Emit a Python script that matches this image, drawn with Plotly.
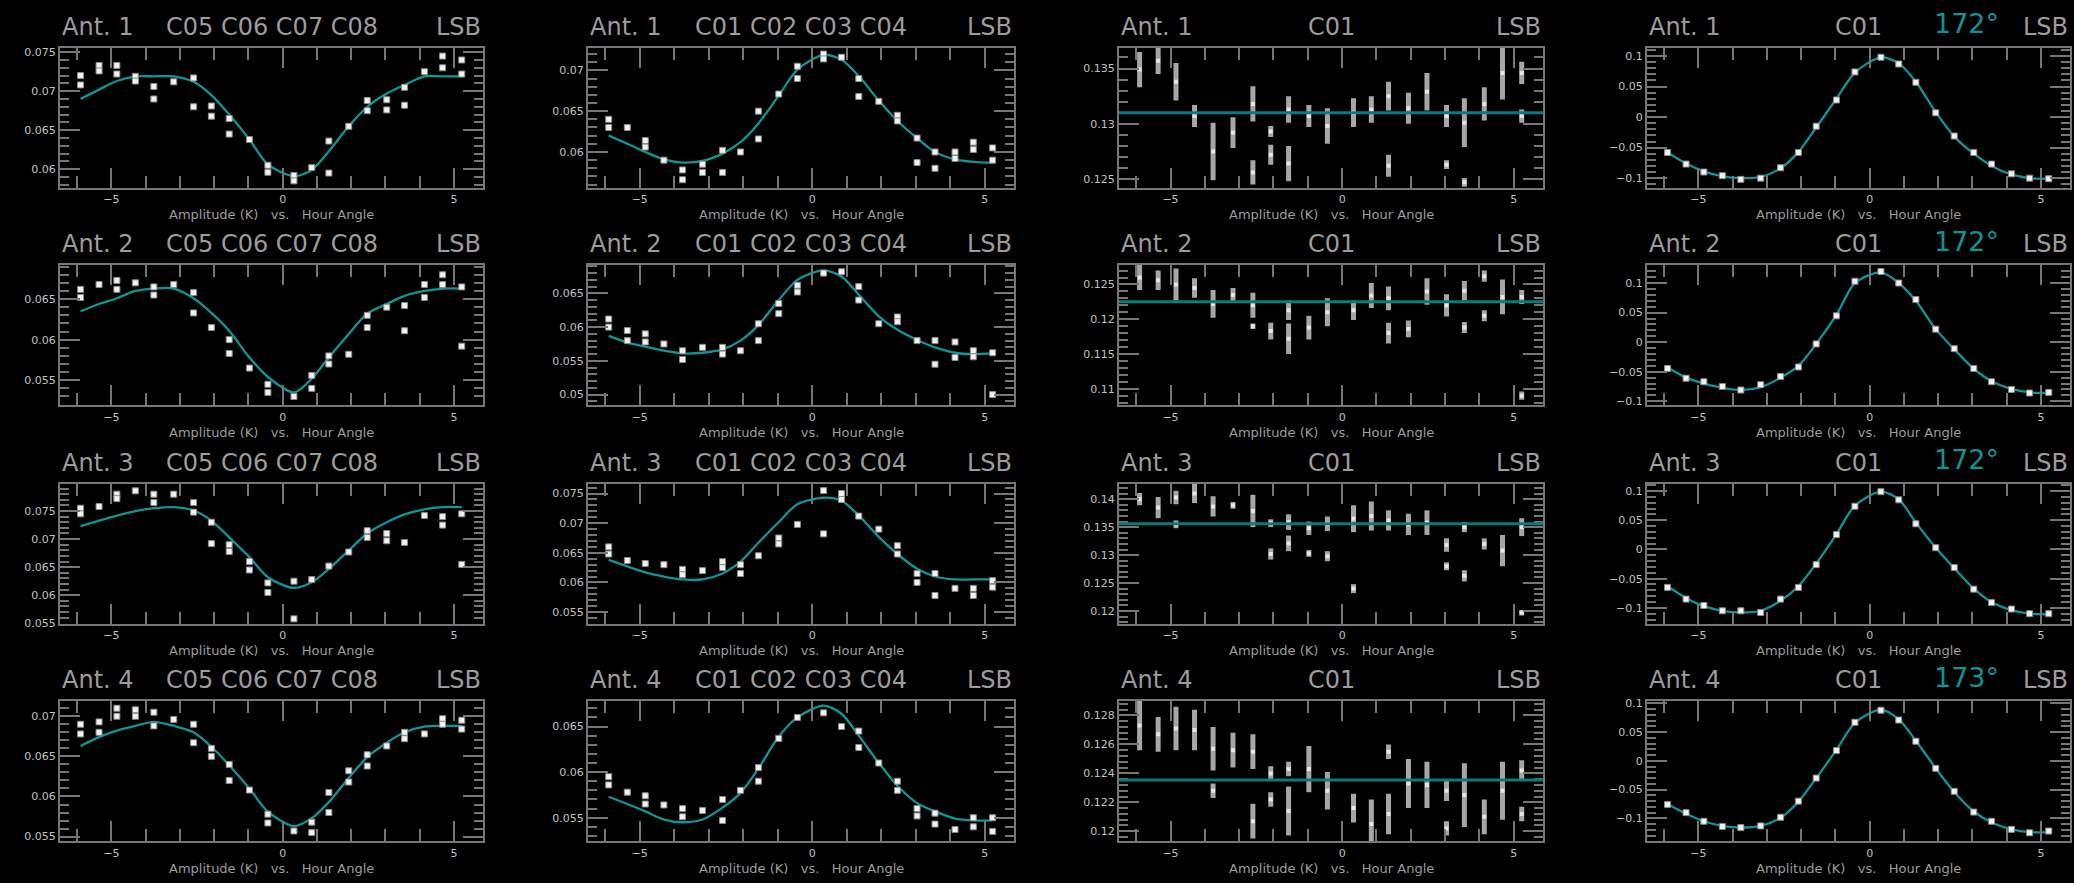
import plotly.graph_objects as go

W, H = 2074, 883

# hour angles of the observation scans (shared by every panel)
HA = [-5.9, -5.36, -4.84, -4.3, -3.76, -3.18, -2.6, -2.08, -1.56, -0.97, -0.43,
      0.33, 0.85, 1.35, 1.93, 2.47, 3.04, 3.56, 4.14, 4.67, 5.23]

# ---------- Antenna 1 ----------
A1_C58_Y1 = [0.0720, 0.0733, 0.0733, 0.0719, 0.0706, 0.0712, 0.0717, 0.0681, 0.0665, 0.0638, 0.0605,
             0.0592, 0.0602, 0.0636, 0.0655, 0.0688, 0.0689, 0.0705, 0.0725, 0.0745, 0.0740]
A1_C58_Y2 = [0.0708, 0.0726, 0.0722, 0.0713, 0.0690, None, 0.0680, 0.0668, 0.0645, None, 0.0596,
             0.0585, None, 0.0595, None, 0.0675, 0.0676, 0.0682, None, 0.0730, 0.0722]
A1_C58_FIT = [0.0690, 0.0702, 0.0713, 0.0719, 0.0719, 0.0719, 0.0712, 0.0695, 0.0670, 0.0638, 0.0606,
              0.0591, 0.0599, 0.0623, 0.0655, 0.0680, 0.0697, 0.0708, 0.0719, 0.0719, 0.0719]

A1_C14_Y1 = [0.0640, 0.0630, 0.0614, 0.0590, 0.0578, 0.0585, 0.0602, 0.0600, 0.0650, 0.0671, 0.0705,
             0.0720, 0.0716, 0.0690, 0.0662, 0.0645, 0.0617, 0.0600, 0.0600, 0.0612, 0.0605]
A1_C14_Y2 = [0.0630, None, 0.0606, None, 0.0566, 0.0575, 0.0575, None, 0.0616, None, 0.0690,
             0.0714, None, 0.0668, None, 0.0638, 0.0587, 0.0580, 0.0592, 0.0603, 0.0590]
A1_C14_FIT = [0.0620, 0.0610, 0.0600, 0.0591, 0.0587, 0.0589, 0.0598, 0.0612, 0.0635, 0.0669, 0.0701,
              0.0719, 0.0713, 0.0693, 0.0663, 0.0638, 0.0617, 0.0600, 0.0591, 0.0588, 0.0587]

A1_C01_Y1 = [0.1349, 0.1357, 0.1338, 0.1307, 0.1275, 0.1292, 0.1318, 0.1293, 0.1313, 0.1307, 0.1298,
             0.1310, 0.1313, 0.1325, 0.1314, 0.1329, 0.1307, 0.1301, 0.1318, 0.1346, 0.1346]
A1_C01_E1 = [0.0016, 0.0012, 0.0017, 0.0010, 0.0026, 0.0014, 0.0016, 0.0005, 0.0012, 0.0010, 0.0016,
             0.0013, 0.0012, 0.0013, 0.0014, 0.0017, 0.0010, 0.0022, 0.0015, 0.0024, 0.0010]
A1_C01_Y2 = [None, None, None, None, None, None, 0.1256, 0.1272, 0.1264, None, None,
             None, None, 0.1262, None, None, 0.1263, 0.1247, None, None, 0.1307]
A1_C01_E2 = [0, 0, 0, 0, 0, 0, 0.0011, 0.0009, 0.0016, 0, 0,
             0, 0, 0.0010, 0, 0, 0.0004, 0.0004, 0, 0, 0.0006]
A1_C01_FIT = 0.1310

A1_PH_Y = [-0.058, -0.077, -0.090, -0.096, -0.102, -0.100, -0.083, -0.058, -0.015, 0.028, 0.074,
           0.098, 0.087, 0.057, 0.007, -0.031, -0.058, -0.077, -0.093, -0.100, -0.101]
A1_PH_FIT = [-0.058, -0.076, -0.089, -0.097, -0.100, -0.098, -0.084, -0.057, -0.017, 0.030, 0.073,
             0.098, 0.088, 0.058, 0.008, -0.032, -0.060, -0.080, -0.094, -0.100, -0.101]

# ---------- Antenna 2 ----------
A2_C58_Y1 = [0.0662, 0.0668, 0.0673, 0.0670, 0.0665, 0.0668, 0.0658, 0.0615, 0.0600, 0.0565, 0.0545,
             0.0530, 0.0556, 0.0580, 0.0582, 0.0630, 0.0640, 0.0642, 0.0668, 0.0680, 0.0665]
A2_C58_Y2 = [0.0652, None, 0.0662, None, 0.0655, None, 0.0633, None, 0.0583, None, 0.0535,
             None, 0.0540, 0.0570, None, 0.0615, None, 0.0611, 0.0652, 0.0668, 0.0592]
A2_C58_FIT = [0.0635, 0.0644, 0.0651, 0.0660, 0.0663, 0.0663, 0.0651, 0.0633, 0.0611, 0.0578, 0.0554,
              0.0535, 0.0552, 0.0578, 0.0607, 0.0632, 0.0644, 0.0654, 0.0660, 0.0663, 0.0663]

A2_C14_Y1 = [0.0612, 0.0595, 0.0590, 0.0575, 0.0565, 0.0570, 0.0570, 0.0565, 0.0605, 0.0635, 0.0662,
             0.0680, 0.0682, 0.0660, 0.0605, 0.0615, 0.0580, 0.0580, 0.0578, 0.0565, 0.0562]
A2_C14_Y2 = [0.0600, 0.0580, 0.0578, None, 0.0552, None, 0.0560, None, 0.0580, 0.0620, 0.0652,
             None, None, 0.0640, None, 0.0608, None, 0.0545, 0.0555, 0.0556, 0.0500]
A2_C14_FIT = [0.0587, 0.0577, 0.0571, 0.0565, 0.0561, 0.0562, 0.0567, 0.0580, 0.0603, 0.0640, 0.0670,
              0.0684, 0.0675, 0.0648, 0.0616, 0.0596, 0.0581, 0.0570, 0.0562, 0.0560, 0.0561]

A2_C01_Y1 = [0.1260, 0.1256, 0.1250, 0.1245, 0.1222, 0.1235, 0.1220, 0.1183, 0.1213, 0.1188, 0.1210,
             0.1213, 0.1234, 0.1230, 0.1186, 0.1240, 0.1220, 0.1241, 0.1262, 0.1232, 0.1232]
A2_C01_E1 = [0.0018, 0.0014, 0.0023, 0.0014, 0.0020, 0.0010, 0.0018, 0.0012, 0.0014, 0.0017, 0.0020,
             0.0014, 0.0018, 0.0017, 0.0012, 0.0019, 0.0016, 0.0014, 0.0008, 0.0025, 0.0010]
A2_C01_Y2 = [None, None, None, None, None, None, 0.1190, None, 0.1172, None, None,
             None, None, 0.1180, None, None, None, 0.1188, 0.1205, None, 0.1090]
A2_C01_E2 = [0, 0, 0, 0, 0, 0, 0.0004, 0, 0.0022, 0, 0,
             0, 0, 0.0015, 0, 0, 0, 0.0008, 0.0008, 0, 0.0006]
A2_C01_FIT = 0.1225

A2_PH_Y = [-0.0445, -0.061, -0.067, -0.075, -0.081, -0.072, -0.058, -0.042, -0.003, 0.0445, 0.103,
           0.1195, 0.100, 0.072, 0.022, -0.011, -0.0445, -0.067, -0.080, -0.086, -0.085]
A2_PH_FIT = [-0.043, -0.060, -0.070, -0.077, -0.081, -0.076, -0.060, -0.040, -0.003, 0.046, 0.100,
             0.118, 0.100, 0.070, 0.022, -0.012, -0.045, -0.066, -0.079, -0.085, -0.086]

# ---------- Antenna 3 ----------
A3_C58_Y1 = [0.0755, 0.0758, 0.0780, 0.0786, 0.0780, 0.0780, 0.0765, 0.0730, 0.0690, 0.0660, 0.0622,
             0.0625, 0.0628, 0.0652, 0.0677, 0.0715, 0.0710, 0.0694, 0.0742, 0.0740, 0.0745]
A3_C58_Y2 = [0.0745, None, 0.0772, None, 0.0765, None, 0.0748, 0.0692, 0.0678, 0.0645, 0.0605,
             0.0558, None, None, None, 0.0703, 0.0697, None, None, 0.0725, 0.0655]
A3_C58_FIT = [0.0723, 0.0733, 0.0742, 0.0750, 0.0755, 0.0757, 0.0751, 0.0733, 0.0703, 0.0668, 0.0632,
              0.0613, 0.0623, 0.0647, 0.0680, 0.0710, 0.0730, 0.0744, 0.0753, 0.0757, 0.0757]

A3_C14_Y1 = [0.0660, 0.0637, 0.0632, 0.0630, 0.0622, 0.0620, 0.0635, 0.0630, 0.0645, 0.0675, 0.0698,
             0.0755, 0.0750, 0.0712, 0.0690, 0.0662, 0.0615, 0.0615, 0.0590, 0.0590, 0.0603]
A3_C14_Y2 = [0.0648, None, None, None, 0.0613, None, 0.0625, 0.0615, None, 0.0665, None,
             0.0682, 0.0740, None, None, 0.0648, 0.0600, 0.0578, None, 0.0578, 0.0592]
A3_C14_FIT = [0.0638, 0.0627, 0.0617, 0.0610, 0.0605, 0.0605, 0.0615, 0.0635, 0.0667, 0.0702, 0.0732,
              0.0743, 0.0738, 0.0713, 0.0677, 0.0648, 0.0623, 0.0610, 0.0605, 0.0605, 0.0605]

A3_C01_Y1 = [0.1400, 0.1385, 0.1403, 0.1410, 0.1387, 0.1389, 0.1379, 0.1357, 0.1359, 0.1348, 0.1356,
             0.1365, 0.1370, 0.1362, 0.1355, 0.1358, 0.1318, 0.1350, 0.1320, 0.1308, 0.1350]
A3_C01_E1 = [0.0011, 0.0019, 0.0012, 0.0017, 0.0018, 0.0006, 0.0029, 0.0007, 0.0014, 0.0012, 0.0013,
             0.0024, 0.0026, 0.0018, 0.0019, 0.0022, 0.0012, 0.0009, 0.0010, 0.0028, 0.0016]
A3_C01_Y2 = [None, None, 0.1355, None, None, None, None, 0.1302, 0.1321, 0.1303, 0.1298,
             0.1240, None, None, None, None, 0.1280, 0.1263, None, None, 0.1197]
A3_C01_E2 = [0, 0, 0.0007, 0, 0, 0, 0, 0.0010, 0.0014, 0.0006, 0.0009,
             0.0008, 0, 0, 0, 0, 0.0007, 0.0010, 0, 0, 0.0005]
A3_C01_FIT = 0.1356

A3_PH_Y = [-0.065, -0.085, -0.096, -0.105, -0.105, -0.108, -0.085, -0.065, -0.026, 0.0255, 0.074,
           0.099, 0.085, 0.044, 0.003, -0.031, -0.068, -0.091, -0.102, -0.110, -0.110]
A3_PH_FIT = [-0.063, -0.083, -0.097, -0.105, -0.108, -0.105, -0.088, -0.063, -0.024, 0.026, 0.075,
             0.099, 0.086, 0.046, 0.003, -0.032, -0.067, -0.090, -0.104, -0.110, -0.111]

# ---------- Antenna 4 ----------
A4_C58_Y1 = [0.0690, 0.0693, 0.0710, 0.0708, 0.0705, 0.0696, 0.0690, 0.0660, 0.0640, 0.0608, 0.0578,
             0.0557, 0.0568, 0.0605, 0.0632, 0.0652, 0.0663, 0.0680, 0.0678, 0.0697, 0.0695]
A4_C58_Y2 = [0.0678, 0.0680, 0.0700, 0.0700, 0.0688, None, 0.0667, 0.0650, 0.0620, None, 0.0567,
             None, 0.0555, 0.0580, 0.0618, 0.0638, None, 0.0672, None, 0.0690, 0.0684]
A4_C58_FIT = [0.0663, 0.0674, 0.0682, 0.0688, 0.0693, 0.0688, 0.0680, 0.0662, 0.0639, 0.0610, 0.0581,
              0.0563, 0.0573, 0.0593, 0.0623, 0.0649, 0.0667, 0.0680, 0.0687, 0.0688, 0.0688]

A4_C14_Y1 = [0.0595, 0.0578, 0.0574, 0.0564, 0.0560, 0.0558, 0.0570, 0.0580, 0.0605, 0.0637, 0.0660,
             0.0665, 0.0650, 0.0645, 0.0610, 0.0590, 0.0560, 0.0555, 0.0537, 0.0550, 0.0550]
A4_C14_Y2 = [0.0586, None, 0.0565, None, 0.0551, None, 0.0547, None, 0.0590, None, None,
             None, None, 0.0627, None, 0.0580, 0.0552, 0.0543, None, 0.0540, 0.0535]
A4_C14_FIT = [0.0573, 0.0565, 0.0557, 0.0548, 0.0545, 0.0548, 0.0561, 0.0577, 0.0604, 0.0639, 0.0660,
              0.0673, 0.0664, 0.0640, 0.0610, 0.0585, 0.0566, 0.0557, 0.0549, 0.0547, 0.0547]

A4_C01_Y1 = [0.1273, 0.1267, 0.1271, 0.1270, 0.1257, 0.1256, 0.1255, 0.1240, 0.1243, 0.1243, 0.1228,
             0.1216, 0.1205, 0.1212, 0.1233, 0.1232, 0.1228, 0.1225, 0.1210, 0.1228, 0.1242]
A4_C01_E1 = [0.0017, 0.0012, 0.0015, 0.0014, 0.0015, 0.0012, 0.0012, 0.0005, 0.0005, 0.0016, 0.0013,
             0.0010, 0.0017, 0.0014, 0.0017, 0.0016, 0.0007, 0.0022, 0.0012, 0.0020, 0.0007]
A4_C01_Y2 = [None, None, None, None, 0.1228, None, 0.1207, 0.1222, 0.1214, None, None,
             None, None, 0.1255, None, None, 0.1202, None, None, None, 0.1212]
A4_C01_E2 = [0, 0, 0, 0, 0.0005, 0, 0.0012, 0.0005, 0.0017, 0, 0,
             0, 0, 0.0005, 0, 0, 0.0005, 0, 0, 0, 0.0005]
A4_C01_FIT = 0.12354

A4_PH_Y = [-0.076, -0.090, -0.105, -0.114, -0.116, -0.113, -0.098, -0.070, -0.030, 0.018, 0.067,
           0.088, 0.071, 0.034, -0.013, -0.053, -0.089, -0.105, -0.119, -0.125, -0.122]
A4_PH_FIT = [-0.075, -0.092, -0.105, -0.113, -0.116, -0.113, -0.099, -0.071, -0.030, 0.019, 0.066,
             0.089, 0.072, 0.035, -0.013, -0.054, -0.088, -0.107, -0.119, -0.124, -0.124]

PHASE_DEG = ["172°", "172°", "172°", "173°"]
CHANNELS = ["C05 C06 C07 C08", "C01 C02 C03 C04", "C01", "C01"]

# y axis ranges and tick labels per panel (row, col)
Y_RANGES = [
    [[0.0576, 0.0756], [0.0556, 0.0728], [0.1242, 0.1369], [-0.116, 0.114]],
    [[0.0519, 0.0692], [0.0484, 0.0692], [0.1076, 0.1278], [-0.107, 0.1305]],
    [[0.0549, 0.0799], [0.0530, 0.0767], [0.1177, 0.1428], [-0.1275, 0.113]],
    [[0.0544, 0.0719], [0.0524, 0.0678], [0.1193, 0.1290], [-0.140, 0.104]],
]
PH_TICKS = ([-0.1, -0.05, 0, 0.05, 0.1], ["−0.1", "−0.05", "0", "0.05", "0.1"])
Y_TICKS = [
    [([0.06, 0.065, 0.07, 0.075], ["0.06", "0.065", "0.07", "0.075"]),
     ([0.06, 0.065, 0.07], ["0.06", "0.065", "0.07"]),
     ([0.125, 0.13, 0.135], ["0.125", "0.13", "0.135"]), PH_TICKS],
    [([0.055, 0.06, 0.065], ["0.055", "0.06", "0.065"]),
     ([0.05, 0.055, 0.06, 0.065], ["0.05", "0.055", "0.06", "0.065"]),
     ([0.11, 0.115, 0.12, 0.125], ["0.11", "0.115", "0.12", "0.125"]), PH_TICKS],
    [([0.055, 0.06, 0.065, 0.07, 0.075], ["0.055", "0.06", "0.065", "0.07", "0.075"]),
     ([0.055, 0.06, 0.065, 0.07, 0.075], ["0.055", "0.06", "0.065", "0.07", "0.075"]),
     ([0.12, 0.125, 0.13, 0.135, 0.14], ["0.12", "0.125", "0.13", "0.135", "0.14"]), PH_TICKS],
    [([0.055, 0.06, 0.065, 0.07], ["0.055", "0.06", "0.065", "0.07"]),
     ([0.055, 0.06, 0.065], ["0.055", "0.06", "0.065"]),
     ([0.12, 0.122, 0.124, 0.126, 0.128], ["0.12", "0.122", "0.124", "0.126", "0.128"]), PH_TICKS],
]
Y_MINOR = [[0.001, 0.001, 0.001, 0.01], [0.001, 0.001, 0.001, 0.01],
           [0.001, 0.001, 0.001, 0.01], [0.001, 0.001, 0.0004, 0.01]]

ANT = [
    dict(c58=(A1_C58_Y1, A1_C58_Y2, A1_C58_FIT), c14=(A1_C14_Y1, A1_C14_Y2, A1_C14_FIT),
         c01=(A1_C01_Y1, A1_C01_E1, A1_C01_Y2, A1_C01_E2, A1_C01_FIT), ph=(A1_PH_Y, A1_PH_FIT)),
    dict(c58=(A2_C58_Y1, A2_C58_Y2, A2_C58_FIT), c14=(A2_C14_Y1, A2_C14_Y2, A2_C14_FIT),
         c01=(A2_C01_Y1, A2_C01_E1, A2_C01_Y2, A2_C01_E2, A2_C01_FIT), ph=(A2_PH_Y, A2_PH_FIT)),
    dict(c58=(A3_C58_Y1, A3_C58_Y2, A3_C58_FIT), c14=(A3_C14_Y1, A3_C14_Y2, A3_C14_FIT),
         c01=(A3_C01_Y1, A3_C01_E1, A3_C01_Y2, A3_C01_E2, A3_C01_FIT), ph=(A3_PH_Y, A3_PH_FIT)),
    dict(c58=(A4_C58_Y1, A4_C58_Y2, A4_C58_FIT), c14=(A4_C14_Y1, A4_C14_Y2, A4_C14_FIT),
         c01=(A4_C01_Y1, A4_C01_E1, A4_C01_Y2, A4_C01_E2, A4_C01_FIT), ph=(A4_PH_Y, A4_PH_FIT)),
]

# pixel frames of the panels
COL_PX = [(60, 483), (588, 1014), (1119, 1543), (1647, 2070)]
ROW_TOP = [44, 264, 485, 705]
PANEL_H = 142

AXIS_GREY = "#767676"
TEXT_GREY = "#9c9c9c"
TICK_GREY = "#c0c0c0"
FIT_COLOR = "#0e9696"
PT_FONT = "DejaVu Sans"

fig = go.Figure()
annotations = []
shapes = []


def add_points(n, y, err, size=6):
    fig.add_trace(go.Scatter(
        x=HA, y=y, mode="markers", xaxis=f"x{n}", yaxis=f"y{n}", showlegend=False,
        marker=dict(symbol="square", size=size, color="#f2f2f2", line=dict(width=1, color="#8a8a8a")),
        error_y=dict(type="constant", value=err, color="#9a9a9a", thickness=1.5, width=0),
    ))


def add_strips(n, y, e):
    fig.add_trace(go.Scatter(
        x=HA, y=y, mode="markers", xaxis=f"x{n}", yaxis=f"y{n}", showlegend=False,
        marker=dict(symbol="square", size=4, color="#e6e6e6"),
        error_y=dict(type="data", array=e, color="#a6a6a6", thickness=5, width=0),
    ))


def add_fit(n, y):
    fig.add_trace(go.Scatter(
        x=HA, y=y, mode="lines", xaxis=f"x{n}", yaxis=f"y{n}", showlegend=False,
        line=dict(color=FIT_COLOR, width=2.3, shape="spline", smoothing=0.8),
    ))


for r in range(4):
    top = ROW_TOP[r]
    bot = top + PANEL_H
    for c in range(4):
        n = r * 4 + c + 1
        left, right = COL_PX[c]
        d = ANT[r]
        if c == 0:
            y1, y2, fit = d["c58"]
            add_fit(n, fit)
            add_points(n, y1, 0.00025)
            add_points(n, y2, 0.00025)
        elif c == 1:
            y1, y2, fit = d["c14"]
            add_fit(n, fit)
            add_points(n, y1, 0.00025)
            add_points(n, y2, 0.00025)
        elif c == 2:
            y1, e1, y2, e2, fit = d["c01"]
            add_strips(n, y1, e1)
            add_strips(n, y2, e2)
            shapes.append(dict(type="line", xref=f"x{n} domain", yref=f"y{n}", x0=0, x1=1,
                               y0=fit, y1=fit, line=dict(color="#0b7a7a", width=3), layer="above"))
        else:
            y, fit = d["ph"]
            add_fit(n, fit)
            add_points(n, y, 0.003, size=6)

        xkey = "xaxis" if n == 1 else f"xaxis{n}"
        ykey = "yaxis" if n == 1 else f"yaxis{n}"
        tv, tt = Y_TICKS[r][c]
        fig.update_layout({
            xkey: dict(
                domain=[left / W, right / W], anchor=f"y{n}", range=[-6.5, 5.85],
                showline=True, linecolor=AXIS_GREY, linewidth=2, mirror="allticks",
                ticks="inside", ticklen=20, tickwidth=2, tickcolor=AXIS_GREY,
                tickvals=[-5, 0, 5], ticktext=["−5", "0", "5"],
                minor=dict(dtick=1, tick0=0, ticks="inside", ticklen=12, tickwidth=2, tickcolor=AXIS_GREY),
                showgrid=False, zeroline=False,
                tickfont=dict(family=PT_FONT, size=11, color=TICK_GREY),
            ),
            ykey: dict(
                domain=[1 - bot / H, 1 - top / H], anchor=f"x{n}", range=Y_RANGES[r][c],
                showline=True, linecolor=AXIS_GREY, linewidth=2, mirror="allticks",
                ticks="inside", ticklen=20, tickwidth=2, tickcolor=AXIS_GREY,
                tickvals=tv, ticktext=tt,
                minor=dict(dtick=Y_MINOR[r][c], tick0=0, ticks="inside", ticklen=9, tickwidth=2,
                           tickcolor=AXIS_GREY),
                showgrid=False, zeroline=False,
                tickfont=dict(family=PT_FONT, size=11, color=TICK_GREY),
            ),
        })

        # panel title pieces
        ty = 1 - (top - 21) / H
        annotations.append(dict(text=f"Ant. {r + 1}", x=left / W, y=ty, xanchor="left",
                                yanchor="middle", font=dict(size=24, color=TEXT_GREY)))
        annotations.append(dict(text=CHANNELS[c], x=(left + right) / 2 / W, y=ty, xanchor="center",
                                yanchor="middle", font=dict(size=24, color=TEXT_GREY)))
        annotations.append(dict(text="LSB", x=right / W, y=ty, xanchor="right",
                                yanchor="middle", font=dict(size=24, color=TEXT_GREY)))
        if c == 3:
            annotations.append(dict(text=PHASE_DEG[r], x=1966 / W, y=ty + 3 / H, xanchor="center",
                                    yanchor="middle", font=dict(size=27, color="#0e9494")))
        annotations.append(dict(text="Amplitude (K)   vs.   Hour Angle", x=(left + right) / 2 / W,
                                y=1 - (bot + 27) / H, xanchor="center", yanchor="middle",
                                font=dict(size=13, color=TEXT_GREY)))

for a in annotations:
    a.update(xref="paper", yref="paper", showarrow=False)
    a["font"]["family"] = PT_FONT

fig.update_layout(
    width=W, height=H,
    margin=dict(l=0, r=0, t=0, b=0),
    paper_bgcolor="black", plot_bgcolor="black",
    showlegend=False,
    annotations=annotations,
    shapes=shapes,
)

fig.write_html(
    "out.html",
    config={"displayModeBar": False},
    post_script="document.body.style.margin='0px';document.body.style.background='black';",
)
